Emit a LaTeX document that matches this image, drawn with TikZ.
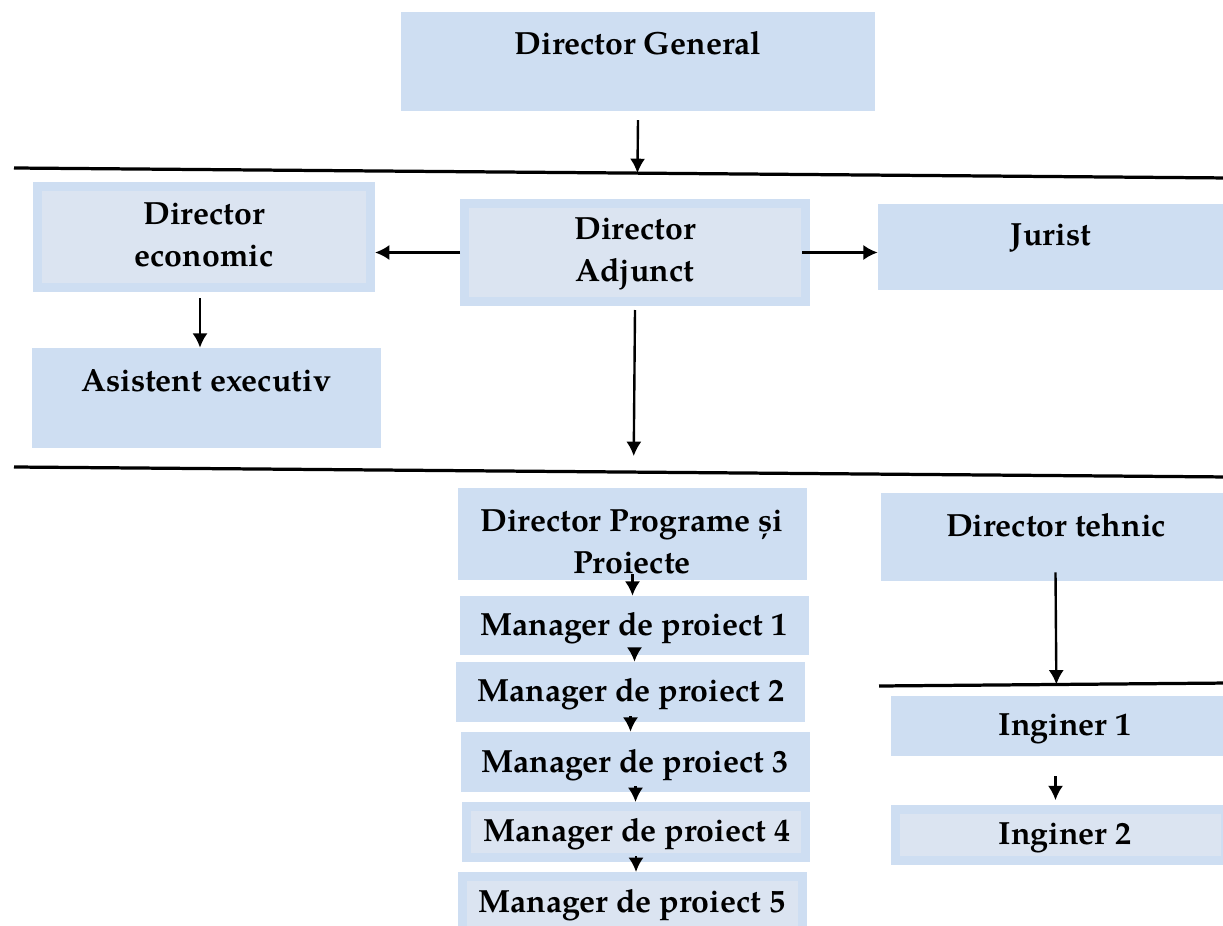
\documentclass[tikz,border=0pt]{standalone}
\usepackage{fontspec}
\setmainfont{TeX Gyre Pagella}
\usepackage{xcolor}
\usetikzlibrary{arrows, arrows.meta, calc, fit}

\definecolor{boxblue}{RGB}{206,222,242}
\definecolor{liteblue}{RGB}{219,228,241}

\tikzset{
  box/.style={fill=boxblue, draw=none, inner sep=0pt},
  twobox/.style={fill=liteblue, draw=boxblue, line width=0.22cm, inner sep=-0.11cm},
  lbl/.style={font=\fontsize{22.8}{30}\selectfont\bfseries, align=center, inner sep=0pt},
  arr/.style={-{Latex[length=0.36cm, width=0.38cm]}, line width=1.7pt},
  rule/.style={line width=2.3pt}
}

\begin{document}
\begin{tikzpicture}[x=0.025cm, y=-0.025cm]
    \useasboundingbox (0,0) rectangle (1223,926);

    % separating rules
    \coordinate (r1a) at (14,168);
    \coordinate (r1b) at (1230,178);
    \coordinate (r2a) at (14,467);
    \coordinate (r2b) at (1230,477);
    \coordinate (r3a) at (879,686);
    \coordinate (r3b) at (1230,683);
    \draw[rule] (r1a) -- (r1b);
    \draw[rule] (r2a) -- (r2b);
    \draw[rule] (r3a) -- (r3b);

    % top level
    \node[box, fit={(401,12) (875,111)}] (gen) {};
    \node[lbl] (gen-t) at (638,43) {Director General};

    \node[twobox, fit={(33,182) (375,292)}] (econ) {};
    \node[lbl] (econ-t) at (204,235) {Director\\economic};
    \node[twobox, fit={(460,199) (810,306)}] (adj) {};
    \node[lbl] (adj-t) at (635,254) {Director\\Adjunct};
    \node[box, fit={(878,204) (1230,290)}] (jur) {};
    \node[lbl] (jur-t) at (1051,238) {Jurist};
    \node[box, fit={(32,348) (381,448)}] (asist) {};
    \node[lbl] (asist-t) at (206,381) {Asistent executiv};

    % programs
    \node[box, fit={(458,488) (807,580)}] (pp) {};
    \node[lbl] (pp-t) at (632,542) {Director Programe și\\Proiecte};
    \node[box, fit={(460,596) (809,655)}] (m1) {};
    \node[lbl] (m1-t) at (634,628) {Manager de proiect 1};
    \node[box, fit={(456,662) (805,722)}] (m2) {};
    \node[lbl] (m2-t) at (631,694) {Manager de proiect 2};
    \node[box, fit={(461,732) (810,792)}] (m3) {};
    \node[lbl] (m3-t) at (635,765) {Manager de proiect 3};
    \node[twobox, fit={(462,802) (810,862)}] (m4) {};
    \node[lbl] (m4-t) at (637,834) {Manager de proiect 4};
    \node[twobox, fit={(458,872) (807,936)}] (m5) {};
    \node[lbl] (m5-t) at (632,905) {Manager de proiect 5};

    % technical
    \node[box, fit={(881,493) (1230,581)}] (tech) {};
    \node[lbl] (tech-t) at (1056,525) {Director tehnic};
    \node[box, fit={(891,696) (1230,756)}] (in1) {};
    \node[lbl] (in1-t) at (1065,729) {Inginer 1};
    \node[twobox, fit={(891,805) (1230,865)}] (in2) {};
    \node[lbl] (in2-t) at (1065,838) {Inginer 2};

    % arrows
    \draw[arr] ([yshift=-0.22cm]gen.south) -- ($(r1a)!(gen.south)!(r1b)$);
    \draw[arr] (adj.west) -- (adj.west -| econ.east);
    \draw[arr] ([xshift=-0.2cm]adj.east) -- (adj.east -| jur.west);
    \draw[arr] ([xshift=-0.1cm, yshift=-0.15cm]econ.south) -- ([xshift=-0.1cm]econ.south |- asist.north);
    \draw[arr, shorten >=0.4cm] ([yshift=-0.1cm]adj.south) -- ($(r2a)!(adj.south)!(r2b)$);
    \draw[arr] ([yshift=0.15cm]pp.south) -- (pp.south |- m1.north);
    \draw[arr] ([yshift=0.15cm]m1.south) -- (m1.south |- m2.north);
    \draw[arr] ([yshift=0.15cm]m2.south) -- (m2.south |- m3.north);
    \draw[arr] ([yshift=0.15cm]m3.south) -- (m3.south |- m4.north);
    \draw[arr] ([yshift=0.15cm]m4.south) -- (m4.south |- m5.north);
    \draw[arr] ([yshift=0.22cm]tech.south) -- ($(r3a)!(tech.south)!(r3b)$);
    \draw[arr, shorten <=0.5cm, shorten >=0.12cm] (in1.south -| tech.south) -- (in2.north -| tech.south);
\end{tikzpicture}
\end{document}
